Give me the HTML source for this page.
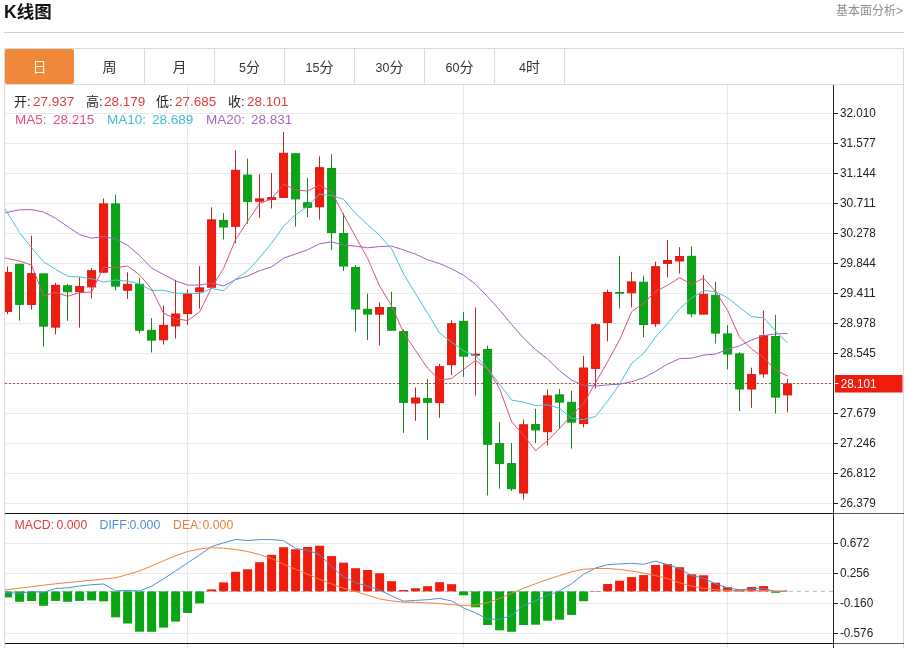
<!DOCTYPE html>
<html><head><meta charset="utf-8"><title>K线图</title>
<style>
html,body{margin:0;padding:0;background:#fff;}
body{width:908px;height:648px;position:relative;overflow:hidden;font-family:"Liberation Sans","Noto Sans CJK SC",sans-serif;color:#333;}
.title{position:absolute;left:4px;top:-1px;font-size:17.5px;font-weight:bold;line-height:26px;color:#111;}
.more{position:absolute;right:5px;top:3px;font-size:12px;line-height:16px;color:#8c8c8c;}
.hr{position:absolute;left:4px;right:4px;top:32px;height:1px;background:#d0d0d0;}
.tabs{position:absolute;left:4px;top:48px;width:899px;height:35px;border:1px solid #dcdcdc;box-sizing:content-box;border-right:none;}
.tab{position:absolute;top:0;width:69px;height:35px;border-right:1px solid #dcdcdc;text-align:center;line-height:36px;font-size:14px;color:#333;}
.tab.on{background:#f0883c;color:#fff6dc;border-right:none;border-radius:2px;}
.tab i{font-style:normal;font-size:12.5px;}
.lg{position:absolute;font-size:13.5px;line-height:16px;white-space:nowrap;}
.lg.m{font-size:12.3px;}
.lg b{font-weight:normal;font-size:13px;}
svg{position:absolute;left:0;top:0;}
.ax{font-family:"Liberation Sans",sans-serif;font-size:13px;fill:#222;}
</style></head><body>
<div class="title">K线图</div>
<div class="more">基本面分析&gt;</div>
<div class="hr"></div>
<svg width="908" height="648" viewBox="0 0 908 648">
<defs><clipPath id="cl"><rect x="5" y="85" width="828" height="563"/></clipPath></defs>
<line x1="5" x2="833" y1="113.5" y2="113.5" stroke="#e9eaec" stroke-width="1"/>
<line x1="5" x2="833" y1="143.5" y2="143.5" stroke="#e9eaec" stroke-width="1"/>
<line x1="5" x2="833" y1="173.5" y2="173.5" stroke="#e9eaec" stroke-width="1"/>
<line x1="5" x2="833" y1="203.5" y2="203.5" stroke="#e9eaec" stroke-width="1"/>
<line x1="5" x2="833" y1="233.5" y2="233.5" stroke="#e9eaec" stroke-width="1"/>
<line x1="5" x2="833" y1="263.5" y2="263.5" stroke="#e9eaec" stroke-width="1"/>
<line x1="5" x2="833" y1="293.5" y2="293.5" stroke="#e9eaec" stroke-width="1"/>
<line x1="5" x2="833" y1="323.5" y2="323.5" stroke="#e9eaec" stroke-width="1"/>
<line x1="5" x2="833" y1="353.5" y2="353.5" stroke="#e9eaec" stroke-width="1"/>
<line x1="5" x2="833" y1="383.5" y2="383.5" stroke="#e9eaec" stroke-width="1"/>
<line x1="5" x2="833" y1="413.5" y2="413.5" stroke="#e9eaec" stroke-width="1"/>
<line x1="5" x2="833" y1="443.5" y2="443.5" stroke="#e9eaec" stroke-width="1"/>
<line x1="5" x2="833" y1="473.5" y2="473.5" stroke="#e9eaec" stroke-width="1"/>
<line x1="5" x2="833" y1="503.5" y2="503.5" stroke="#e9eaec" stroke-width="1"/>
<line x1="5" x2="833" y1="543.5" y2="543.5" stroke="#e9eaec" stroke-width="1"/>
<line x1="5" x2="833" y1="573.5" y2="573.5" stroke="#e9eaec" stroke-width="1"/>
<line x1="5" x2="833" y1="603.5" y2="603.5" stroke="#e9eaec" stroke-width="1"/>
<line x1="5" x2="833" y1="633.5" y2="633.5" stroke="#e9eaec" stroke-width="1"/>
<line x1="187.5" x2="187.5" y1="85" y2="648" stroke="#e5e9ef" stroke-width="1"/>
<line x1="463.5" x2="463.5" y1="85" y2="648" stroke="#e5e9ef" stroke-width="1"/>
<line x1="727.5" x2="727.5" y1="85" y2="648" stroke="#e5e9ef" stroke-width="1"/>
<line x1="4.5" x2="4.5" y1="48" y2="648" stroke="#dcdcdc" stroke-width="1"/>
<line x1="903.5" x2="903.5" y1="48" y2="648" stroke="#dcdcdc" stroke-width="1"/>
<line x1="5" x2="833" y1="383.5" y2="383.5" stroke="#b03a30" stroke-width="1" stroke-dasharray="2,2" opacity="0.9"/>
<g clip-path="url(#cl)">
<line x1="7.5" x2="7.5" y1="266.4" y2="314.2" stroke="#c02424" stroke-width="1"/>
<rect x="3.6" y="272.4" width="8" height="39.0" fill="#f01c0c" stroke="#d8181a" stroke-width="1"/>
<line x1="19.5" x2="19.5" y1="263.8" y2="320.6" stroke="#1a8426" stroke-width="1"/>
<rect x="15.6" y="264.3" width="8" height="40.1" fill="#0aa514" stroke="#0e951c" stroke-width="1"/>
<line x1="31.5" x2="31.5" y1="235.7" y2="309.4" stroke="#c02424" stroke-width="1"/>
<rect x="27.6" y="273.7" width="8" height="30.7" fill="#f01c0c" stroke="#d8181a" stroke-width="1"/>
<line x1="43.5" x2="43.5" y1="273.4" y2="346.6" stroke="#1a8426" stroke-width="1"/>
<rect x="39.6" y="273.9" width="8" height="52.2" fill="#0aa514" stroke="#0e951c" stroke-width="1"/>
<line x1="55.5" x2="55.5" y1="282.8" y2="334.5" stroke="#c02424" stroke-width="1"/>
<rect x="51.6" y="285.3" width="8" height="41.8" fill="#f01c0c" stroke="#d8181a" stroke-width="1"/>
<line x1="67.5" x2="67.5" y1="284.0" y2="320.8" stroke="#1a8426" stroke-width="1"/>
<rect x="63.6" y="285.8" width="8" height="5.9" fill="#0aa514" stroke="#0e951c" stroke-width="1"/>
<line x1="79.5" x2="79.5" y1="277.0" y2="327.6" stroke="#c02424" stroke-width="1"/>
<rect x="75.6" y="286.6" width="8" height="5.1" fill="#f01c0c" stroke="#d8181a" stroke-width="1"/>
<line x1="91.5" x2="91.5" y1="268.0" y2="298.5" stroke="#c02424" stroke-width="1"/>
<rect x="87.6" y="270.7" width="8" height="16.2" fill="#f01c0c" stroke="#d8181a" stroke-width="1"/>
<line x1="103.5" x2="103.5" y1="198.5" y2="272.7" stroke="#c02424" stroke-width="1"/>
<rect x="99.6" y="203.9" width="8" height="68.3" fill="#f01c0c" stroke="#d8181a" stroke-width="1"/>
<line x1="115.5" x2="115.5" y1="194.7" y2="290.4" stroke="#1a8426" stroke-width="1"/>
<rect x="111.6" y="203.9" width="8" height="82.2" fill="#0aa514" stroke="#0e951c" stroke-width="1"/>
<line x1="127.5" x2="127.5" y1="272.4" y2="298.8" stroke="#c02424" stroke-width="1"/>
<rect x="123.6" y="284.3" width="8" height="5.9" fill="#f01c0c" stroke="#d8181a" stroke-width="1"/>
<line x1="139.5" x2="139.5" y1="277.7" y2="333.5" stroke="#1a8426" stroke-width="1"/>
<rect x="135.6" y="284.3" width="8" height="45.9" fill="#0aa514" stroke="#0e951c" stroke-width="1"/>
<line x1="151.5" x2="151.5" y1="318.0" y2="352.5" stroke="#1a8426" stroke-width="1"/>
<rect x="147.6" y="330.4" width="8" height="9.7" fill="#0aa514" stroke="#0e951c" stroke-width="1"/>
<line x1="163.5" x2="163.5" y1="305.6" y2="344.6" stroke="#c02424" stroke-width="1"/>
<rect x="159.6" y="325.4" width="8" height="14.4" fill="#f01c0c" stroke="#d8181a" stroke-width="1"/>
<line x1="175.5" x2="175.5" y1="279.8" y2="338.5" stroke="#c02424" stroke-width="1"/>
<rect x="171.6" y="314.0" width="8" height="11.9" fill="#f01c0c" stroke="#d8181a" stroke-width="1"/>
<line x1="187.5" x2="187.5" y1="289.7" y2="325.1" stroke="#c02424" stroke-width="1"/>
<rect x="183.6" y="294.0" width="8" height="19.5" fill="#f01c0c" stroke="#d8181a" stroke-width="1"/>
<line x1="199.5" x2="199.5" y1="266.1" y2="308.7" stroke="#c02424" stroke-width="1"/>
<rect x="195.6" y="287.9" width="8" height="3.8" fill="#f01c0c" stroke="#d8181a" stroke-width="1"/>
<line x1="211.5" x2="211.5" y1="207.3" y2="287.7" stroke="#c02424" stroke-width="1"/>
<rect x="207.6" y="219.9" width="8" height="67.3" fill="#f01c0c" stroke="#d8181a" stroke-width="1"/>
<line x1="223.5" x2="223.5" y1="213.1" y2="239.4" stroke="#1a8426" stroke-width="1"/>
<rect x="219.6" y="220.4" width="8" height="6.6" fill="#0aa514" stroke="#0e951c" stroke-width="1"/>
<line x1="235.5" x2="235.5" y1="150.3" y2="243.2" stroke="#c02424" stroke-width="1"/>
<rect x="231.6" y="170.3" width="8" height="56.0" fill="#f01c0c" stroke="#d8181a" stroke-width="1"/>
<line x1="247.5" x2="247.5" y1="158.6" y2="223.7" stroke="#1a8426" stroke-width="1"/>
<rect x="243.6" y="175.1" width="8" height="26.3" fill="#0aa514" stroke="#0e951c" stroke-width="1"/>
<line x1="259.5" x2="259.5" y1="174.1" y2="217.9" stroke="#c02424" stroke-width="1"/>
<rect x="255.6" y="198.9" width="8" height="2.3" fill="#f01c0c" stroke="#d8181a" stroke-width="1"/>
<line x1="271.5" x2="271.5" y1="173.1" y2="208.5" stroke="#c02424" stroke-width="1"/>
<rect x="267.6" y="197.6" width="8" height="1.8" fill="#f01c0c" stroke="#d8181a" stroke-width="1"/>
<line x1="283.5" x2="283.5" y1="132.0" y2="197.9" stroke="#c02424" stroke-width="1"/>
<rect x="279.6" y="153.3" width="8" height="44.1" fill="#f01c0c" stroke="#d8181a" stroke-width="1"/>
<line x1="295.5" x2="295.5" y1="153.3" y2="226.5" stroke="#1a8426" stroke-width="1"/>
<rect x="291.6" y="153.8" width="8" height="45.1" fill="#0aa514" stroke="#0e951c" stroke-width="1"/>
<line x1="307.5" x2="307.5" y1="177.9" y2="217.1" stroke="#1a8426" stroke-width="1"/>
<rect x="303.6" y="202.7" width="8" height="4.6" fill="#0aa514" stroke="#0e951c" stroke-width="1"/>
<line x1="319.5" x2="319.5" y1="156.3" y2="219.7" stroke="#c02424" stroke-width="1"/>
<rect x="315.6" y="167.7" width="8" height="39.1" fill="#f01c0c" stroke="#d8181a" stroke-width="1"/>
<line x1="331.5" x2="331.5" y1="154.3" y2="250.1" stroke="#1a8426" stroke-width="1"/>
<rect x="327.6" y="168.5" width="8" height="64.1" fill="#0aa514" stroke="#0e951c" stroke-width="1"/>
<line x1="343.5" x2="343.5" y1="213.1" y2="271.0" stroke="#1a8426" stroke-width="1"/>
<rect x="339.6" y="233.6" width="8" height="32.4" fill="#0aa514" stroke="#0e951c" stroke-width="1"/>
<line x1="355.5" x2="355.5" y1="265.0" y2="331.6" stroke="#1a8426" stroke-width="1"/>
<rect x="351.6" y="267.5" width="8" height="41.5" fill="#0aa514" stroke="#0e951c" stroke-width="1"/>
<line x1="367.5" x2="367.5" y1="293.6" y2="339.9" stroke="#1a8426" stroke-width="1"/>
<rect x="363.6" y="309.3" width="8" height="4.8" fill="#0aa514" stroke="#0e951c" stroke-width="1"/>
<line x1="379.5" x2="379.5" y1="302.4" y2="345.5" stroke="#c02424" stroke-width="1"/>
<rect x="375.6" y="307.5" width="8" height="6.6" fill="#f01c0c" stroke="#d8181a" stroke-width="1"/>
<line x1="391.5" x2="391.5" y1="291.8" y2="330.7" stroke="#1a8426" stroke-width="1"/>
<rect x="387.6" y="307.5" width="8" height="22.7" fill="#0aa514" stroke="#0e951c" stroke-width="1"/>
<line x1="403.5" x2="403.5" y1="329.3" y2="432.9" stroke="#1a8426" stroke-width="1"/>
<rect x="399.6" y="331.6" width="8" height="70.8" fill="#0aa514" stroke="#0e951c" stroke-width="1"/>
<line x1="415.5" x2="415.5" y1="387.5" y2="420.8" stroke="#c02424" stroke-width="1"/>
<rect x="411.6" y="398.0" width="8" height="5.0" fill="#f01c0c" stroke="#d8181a" stroke-width="1"/>
<line x1="427.5" x2="427.5" y1="379.1" y2="439.8" stroke="#1a8426" stroke-width="1"/>
<rect x="423.6" y="398.6" width="8" height="3.7" fill="#0aa514" stroke="#0e951c" stroke-width="1"/>
<line x1="439.5" x2="439.5" y1="363.9" y2="417.7" stroke="#c02424" stroke-width="1"/>
<rect x="435.6" y="366.7" width="8" height="35.9" fill="#f01c0c" stroke="#d8181a" stroke-width="1"/>
<line x1="451.5" x2="451.5" y1="320.4" y2="375.0" stroke="#c02424" stroke-width="1"/>
<rect x="447.6" y="323.7" width="8" height="41.0" fill="#f01c0c" stroke="#d8181a" stroke-width="1"/>
<line x1="463.5" x2="463.5" y1="312.1" y2="376.9" stroke="#1a8426" stroke-width="1"/>
<rect x="459.6" y="321.4" width="8" height="34.7" fill="#0aa514" stroke="#0e951c" stroke-width="1"/>
<line x1="475.5" x2="475.5" y1="307.5" y2="395.5" stroke="#c02424" stroke-width="1"/>
<rect x="471.6" y="354.3" width="8" height="0.8" fill="#c01828" stroke="#b01828" stroke-width="1"/>
<line x1="487.5" x2="487.5" y1="345.7" y2="495.5" stroke="#1a8426" stroke-width="1"/>
<rect x="483.6" y="349.5" width="8" height="94.8" fill="#0aa514" stroke="#0e951c" stroke-width="1"/>
<line x1="499.5" x2="499.5" y1="422.0" y2="488.7" stroke="#1a8426" stroke-width="1"/>
<rect x="495.6" y="443.6" width="8" height="20.0" fill="#0aa514" stroke="#0e951c" stroke-width="1"/>
<line x1="511.5" x2="511.5" y1="443.1" y2="491.0" stroke="#1a8426" stroke-width="1"/>
<rect x="507.6" y="463.6" width="8" height="25.1" fill="#0aa514" stroke="#0e951c" stroke-width="1"/>
<line x1="523.5" x2="523.5" y1="419.5" y2="499.6" stroke="#c02424" stroke-width="1"/>
<rect x="519.6" y="424.8" width="8" height="68.2" fill="#f01c0c" stroke="#d8181a" stroke-width="1"/>
<line x1="535.5" x2="535.5" y1="408.9" y2="443.1" stroke="#1a8426" stroke-width="1"/>
<rect x="531.6" y="424.6" width="8" height="5.3" fill="#0aa514" stroke="#0e951c" stroke-width="1"/>
<line x1="547.5" x2="547.5" y1="389.4" y2="445.6" stroke="#c02424" stroke-width="1"/>
<rect x="543.6" y="395.9" width="8" height="35.8" fill="#f01c0c" stroke="#d8181a" stroke-width="1"/>
<line x1="559.5" x2="559.5" y1="389.1" y2="429.1" stroke="#1a8426" stroke-width="1"/>
<rect x="555.6" y="394.9" width="8" height="7.2" fill="#0aa514" stroke="#0e951c" stroke-width="1"/>
<line x1="571.5" x2="571.5" y1="390.9" y2="448.7" stroke="#1a8426" stroke-width="1"/>
<rect x="567.6" y="402.3" width="8" height="19.8" fill="#0aa514" stroke="#0e951c" stroke-width="1"/>
<line x1="583.5" x2="583.5" y1="355.9" y2="427.4" stroke="#c02424" stroke-width="1"/>
<rect x="579.6" y="368.0" width="8" height="55.6" fill="#f01c0c" stroke="#d8181a" stroke-width="1"/>
<line x1="595.5" x2="595.5" y1="323.0" y2="388.4" stroke="#c02424" stroke-width="1"/>
<rect x="591.6" y="324.7" width="8" height="43.7" fill="#f01c0c" stroke="#d8181a" stroke-width="1"/>
<line x1="607.5" x2="607.5" y1="289.5" y2="341.4" stroke="#c02424" stroke-width="1"/>
<rect x="603.6" y="292.6" width="8" height="29.9" fill="#f01c0c" stroke="#d8181a" stroke-width="1"/>
<line x1="619.5" x2="619.5" y1="255.8" y2="308.5" stroke="#1a8426" stroke-width="1"/>
<rect x="615.6" y="292.6" width="8" height="0.6" fill="#0aa514" stroke="#0e951c" stroke-width="1"/>
<line x1="631.5" x2="631.5" y1="271.8" y2="307.3" stroke="#c02424" stroke-width="1"/>
<rect x="627.6" y="281.9" width="8" height="10.9" fill="#f01c0c" stroke="#d8181a" stroke-width="1"/>
<line x1="643.5" x2="643.5" y1="275.6" y2="337.1" stroke="#1a8426" stroke-width="1"/>
<rect x="639.6" y="282.2" width="8" height="42.3" fill="#0aa514" stroke="#0e951c" stroke-width="1"/>
<line x1="655.5" x2="655.5" y1="261.7" y2="326.8" stroke="#c02424" stroke-width="1"/>
<rect x="651.6" y="266.7" width="8" height="57.0" fill="#f01c0c" stroke="#d8181a" stroke-width="1"/>
<line x1="667.5" x2="667.5" y1="240.1" y2="277.4" stroke="#c02424" stroke-width="1"/>
<rect x="663.6" y="260.5" width="8" height="2.9" fill="#f01c0c" stroke="#d8181a" stroke-width="1"/>
<line x1="679.5" x2="679.5" y1="247.2" y2="273.6" stroke="#c02424" stroke-width="1"/>
<rect x="675.6" y="256.5" width="8" height="4.5" fill="#f01c0c" stroke="#d8181a" stroke-width="1"/>
<line x1="691.5" x2="691.5" y1="246.5" y2="316.9" stroke="#1a8426" stroke-width="1"/>
<rect x="687.6" y="256.3" width="8" height="57.5" fill="#0aa514" stroke="#0e951c" stroke-width="1"/>
<line x1="703.5" x2="703.5" y1="275.1" y2="314.6" stroke="#c02424" stroke-width="1"/>
<rect x="699.6" y="294.3" width="8" height="19.8" fill="#f01c0c" stroke="#d8181a" stroke-width="1"/>
<line x1="715.5" x2="715.5" y1="281.9" y2="343.5" stroke="#1a8426" stroke-width="1"/>
<rect x="711.6" y="295.3" width="8" height="37.8" fill="#0aa514" stroke="#0e951c" stroke-width="1"/>
<line x1="727.5" x2="727.5" y1="325.2" y2="369.3" stroke="#1a8426" stroke-width="1"/>
<rect x="723.6" y="333.9" width="8" height="20.1" fill="#0aa514" stroke="#0e951c" stroke-width="1"/>
<line x1="739.5" x2="739.5" y1="352.3" y2="411.1" stroke="#1a8426" stroke-width="1"/>
<rect x="735.6" y="353.9" width="8" height="35.1" fill="#0aa514" stroke="#0e951c" stroke-width="1"/>
<line x1="751.5" x2="751.5" y1="367.7" y2="407.8" stroke="#c02424" stroke-width="1"/>
<rect x="747.6" y="374.6" width="8" height="14.4" fill="#f01c0c" stroke="#d8181a" stroke-width="1"/>
<line x1="763.5" x2="763.5" y1="310.6" y2="377.5" stroke="#c02424" stroke-width="1"/>
<rect x="759.6" y="335.8" width="8" height="38.1" fill="#f01c0c" stroke="#d8181a" stroke-width="1"/>
<line x1="775.5" x2="775.5" y1="314.8" y2="413.4" stroke="#1a8426" stroke-width="1"/>
<rect x="771.6" y="336.5" width="8" height="60.6" fill="#0aa514" stroke="#0e951c" stroke-width="1"/>
<line x1="787.5" x2="787.5" y1="378.8" y2="412.3" stroke="#c02424" stroke-width="1"/>
<rect x="783.6" y="384.0" width="8" height="10.9" fill="#f01c0c" stroke="#d8181a" stroke-width="1"/>
<polyline points="-4.4,214.8 7.6,212.3 19.6,209.8 31.6,209.6 43.6,212.0 55.6,218.3 67.6,226.5 79.6,234.6 91.6,238.2 103.6,236.5 115.6,239.0 127.6,245.3 139.6,255.5 151.6,268.1 163.6,274.5 175.6,280.8 187.6,285.1 199.6,285.1 211.6,283.0 223.6,286.0 235.6,279.6 247.6,276.1 259.6,270.7 271.6,266.9 283.6,258.2 295.6,254.0 307.6,249.7 319.6,243.8 331.6,241.9 343.6,245.1 355.6,246.2 367.6,247.8 379.6,246.6 391.6,246.1 403.6,250.0 415.6,254.2 427.6,259.7 439.6,263.6 451.6,268.8 463.6,275.2 475.6,284.4 487.6,296.6 499.6,309.9 511.6,324.5 523.6,338.1 535.6,349.6 547.6,359.0 559.6,370.8 571.6,380.2 583.6,385.3 595.6,386.0 607.6,384.9 619.6,384.2 631.6,381.7 643.6,377.9 655.6,371.3 667.6,364.1 679.6,358.6 691.6,358.2 703.6,355.1 715.6,354.0 727.6,349.5 739.6,345.8 751.6,340.0 763.6,335.6 775.6,333.9 787.6,333.4" fill="none" stroke="#a062c0" stroke-width="1.0" stroke-linejoin="round"/>
<polyline points="-4.4,193.3 7.6,213.0 19.6,232.7 31.6,247.9 43.6,261.8 55.6,269.4 67.6,276.2 79.6,277.0 91.6,278.8 103.6,282.0 115.6,280.0 127.6,281.2 139.6,283.8 151.6,290.5 163.6,290.3 175.6,293.2 187.6,293.3 199.6,293.5 211.6,288.4 223.6,290.8 235.6,279.1 247.6,270.9 259.6,257.7 271.6,243.3 283.6,226.1 295.6,214.7 307.6,206.2 319.6,194.1 331.6,195.5 343.6,199.4 355.6,213.4 367.6,224.6 379.6,235.5 391.6,248.9 403.6,273.9 415.6,293.7 427.6,313.2 439.6,333.1 451.6,342.1 463.6,351.1 475.6,355.5 487.6,368.6 499.6,384.3 511.6,400.1 523.6,402.2 535.6,405.5 547.6,404.8 559.6,408.4 571.6,418.4 583.6,419.5 595.6,416.5 607.6,401.2 619.6,384.2 631.6,363.4 643.6,353.4 655.6,337.0 667.6,323.5 679.6,308.8 691.6,298.0 703.6,290.6 715.6,291.6 727.6,297.8 739.6,307.4 751.6,316.7 763.6,317.7 775.6,330.9 787.6,343.2" fill="none" stroke="#45c2d6" stroke-width="1.0" stroke-linejoin="round"/>
<polyline points="-4.4,256.0 7.6,258.5 19.6,261.0 31.6,265.1 43.6,296.0 55.6,292.3 67.6,296.3 79.6,292.6 91.6,292.0 103.6,267.3 115.6,267.7 127.6,266.0 139.6,274.9 151.6,289.0 163.6,313.3 175.6,318.7 187.6,320.6 199.6,312.0 211.6,287.7 223.6,268.3 235.6,239.5 247.6,221.2 259.6,203.4 271.6,198.9 283.6,184.0 295.6,189.9 307.6,191.1 319.6,184.9 331.6,192.1 343.6,214.8 355.6,236.8 367.6,258.2 379.6,286.1 391.6,305.7 403.6,332.9 415.6,350.5 427.6,368.2 439.6,380.0 451.6,378.5 463.6,369.3 475.6,360.5 487.6,368.9 499.6,388.5 511.6,421.7 523.6,435.2 535.6,450.6 547.6,440.7 559.6,428.4 571.6,415.1 583.6,403.7 595.6,382.5 607.6,361.8 619.6,339.9 631.6,311.7 643.6,303.2 655.6,291.6 667.6,285.2 679.6,277.7 691.6,284.3 703.6,278.1 715.6,291.5 727.6,310.4 739.6,337.1 751.6,349.1 763.6,357.4 775.6,370.2 787.6,376.0" fill="none" stroke="#e0507c" stroke-width="1.0" stroke-linejoin="round"/>
<line x1="5" x2="833" y1="591.4" y2="591.4" stroke="#9cc4e8" stroke-width="1" stroke-dasharray="4,4"/>
<rect x="3.1" y="591.4" width="9" height="6.0" fill="#0aa514"/>
<rect x="15.1" y="591.4" width="9" height="10.4" fill="#0aa514"/>
<rect x="27.1" y="591.4" width="9" height="9.6" fill="#0aa514"/>
<rect x="39.1" y="591.4" width="9" height="14.4" fill="#0aa514"/>
<rect x="51.1" y="591.4" width="9" height="9.5" fill="#0aa514"/>
<rect x="63.1" y="591.4" width="9" height="10.4" fill="#0aa514"/>
<rect x="75.1" y="591.4" width="9" height="9.5" fill="#0aa514"/>
<rect x="87.1" y="591.4" width="9" height="9.0" fill="#0aa514"/>
<rect x="99.1" y="591.4" width="9" height="10.0" fill="#0aa514"/>
<rect x="111.1" y="591.4" width="9" height="25.9" fill="#0aa514"/>
<rect x="123.1" y="591.4" width="9" height="32.1" fill="#0aa514"/>
<rect x="135.1" y="591.4" width="9" height="40.3" fill="#0aa514"/>
<rect x="147.1" y="591.4" width="9" height="40.4" fill="#0aa514"/>
<rect x="159.1" y="591.4" width="9" height="36.2" fill="#0aa514"/>
<rect x="171.1" y="591.4" width="9" height="30.2" fill="#0aa514"/>
<rect x="183.1" y="591.4" width="9" height="21.6" fill="#0aa514"/>
<rect x="195.1" y="591.4" width="9" height="12.0" fill="#0aa514"/>
<rect x="207.1" y="589.4" width="9" height="2.0" fill="#f01c0c"/>
<rect x="219.1" y="582.4" width="9" height="9.0" fill="#f01c0c"/>
<rect x="231.1" y="571.8" width="9" height="19.6" fill="#f01c0c"/>
<rect x="243.1" y="569.3" width="9" height="22.1" fill="#f01c0c"/>
<rect x="255.1" y="562.2" width="9" height="29.2" fill="#f01c0c"/>
<rect x="267.1" y="554.8" width="9" height="36.6" fill="#f01c0c"/>
<rect x="279.1" y="547.2" width="9" height="44.2" fill="#f01c0c"/>
<rect x="291.1" y="549.3" width="9" height="42.1" fill="#f01c0c"/>
<rect x="303.1" y="547.0" width="9" height="44.4" fill="#f01c0c"/>
<rect x="315.1" y="545.7" width="9" height="45.7" fill="#f01c0c"/>
<rect x="327.1" y="556.1" width="9" height="35.3" fill="#f01c0c"/>
<rect x="339.1" y="562.7" width="9" height="28.7" fill="#f01c0c"/>
<rect x="351.1" y="568.2" width="9" height="23.2" fill="#f01c0c"/>
<rect x="363.1" y="570.0" width="9" height="21.4" fill="#f01c0c"/>
<rect x="375.1" y="573.3" width="9" height="18.1" fill="#f01c0c"/>
<rect x="387.1" y="581.2" width="9" height="10.2" fill="#f01c0c"/>
<rect x="399.1" y="590.0" width="9" height="1.4" fill="#f01c0c"/>
<rect x="411.1" y="588.3" width="9" height="3.1" fill="#f01c0c"/>
<rect x="423.1" y="586.2" width="9" height="5.2" fill="#f01c0c"/>
<rect x="435.1" y="582.2" width="9" height="9.2" fill="#f01c0c"/>
<rect x="447.1" y="584.2" width="9" height="7.2" fill="#f01c0c"/>
<rect x="459.1" y="591.4" width="9" height="3.9" fill="#0aa514"/>
<rect x="471.1" y="591.4" width="9" height="15.9" fill="#0aa514"/>
<rect x="483.1" y="591.4" width="9" height="33.6" fill="#0aa514"/>
<rect x="495.1" y="591.4" width="9" height="38.9" fill="#0aa514"/>
<rect x="507.1" y="591.4" width="9" height="40.4" fill="#0aa514"/>
<rect x="519.1" y="591.4" width="9" height="33.6" fill="#0aa514"/>
<rect x="531.1" y="591.4" width="9" height="33.3" fill="#0aa514"/>
<rect x="543.1" y="591.4" width="9" height="29.3" fill="#0aa514"/>
<rect x="555.1" y="591.4" width="9" height="28.3" fill="#0aa514"/>
<rect x="567.1" y="591.4" width="9" height="23.5" fill="#0aa514"/>
<rect x="579.1" y="591.4" width="9" height="9.8" fill="#0aa514"/>
<rect x="591.1" y="591.0" width="9" height="0.4" fill="#f01c0c"/>
<rect x="603.1" y="584.0" width="9" height="7.4" fill="#f01c0c"/>
<rect x="615.1" y="580.7" width="9" height="10.7" fill="#f01c0c"/>
<rect x="627.1" y="577.1" width="9" height="14.3" fill="#f01c0c"/>
<rect x="639.1" y="575.1" width="9" height="16.3" fill="#f01c0c"/>
<rect x="651.1" y="565.0" width="9" height="26.4" fill="#f01c0c"/>
<rect x="663.1" y="564.2" width="9" height="27.2" fill="#f01c0c"/>
<rect x="675.1" y="567.2" width="9" height="24.2" fill="#f01c0c"/>
<rect x="687.1" y="574.3" width="9" height="17.1" fill="#f01c0c"/>
<rect x="699.1" y="575.3" width="9" height="16.1" fill="#f01c0c"/>
<rect x="711.1" y="582.7" width="9" height="8.7" fill="#f01c0c"/>
<rect x="723.1" y="587.2" width="9" height="4.2" fill="#f01c0c"/>
<rect x="735.1" y="589.5" width="9" height="1.9" fill="#f01c0c"/>
<rect x="747.1" y="587.0" width="9" height="4.4" fill="#f01c0c"/>
<rect x="759.1" y="586.0" width="9" height="5.4" fill="#f01c0c"/>
<rect x="771.1" y="591.4" width="9" height="1.4" fill="#0aa514"/>
<polyline points="-4.4,591.8 7.6,592.6 19.6,593.4 31.6,591.5 43.6,592.4 55.6,588.5 67.6,587.8 79.6,586.1 91.6,584.7 103.6,584.0 115.6,590.8 127.6,590.5 139.6,591.0 151.6,586.2 163.6,578.8 175.6,570.9 187.6,562.9 199.6,555.0 211.6,546.5 223.6,542.8 235.6,539.4 247.6,540.6 259.6,539.6 271.6,539.6 283.6,540.6 295.6,548.5 307.6,550.3 319.6,554.6 331.6,566.7 343.6,576.9 355.6,582.7 367.6,586.2 379.6,590.0 391.6,595.9 403.6,601.2 415.6,600.4 427.6,599.7 439.6,598.4 451.6,600.9 463.6,608.0 475.6,612.8 487.6,619.2 499.6,619.2 511.6,615.6 523.6,605.5 535.6,600.9 547.6,595.3 559.6,590.8 571.6,583.7 583.6,574.3 595.6,568.0 607.6,564.7 619.6,563.9 631.6,563.4 643.6,564.2 655.6,561.2 667.6,564.7 679.6,568.5 691.6,575.6 703.6,578.1 715.6,584.0 727.6,587.8 739.6,590.0 751.6,588.8 763.6,588.3 775.6,591.5 787.6,591.0" fill="none" stroke="#4a90d9" stroke-width="1.0" stroke-linejoin="round"/>
<polyline points="-4.4,591.0 7.6,589.6 19.6,588.2 31.6,586.7 43.6,585.2 55.6,583.8 67.6,582.6 79.6,581.4 91.6,580.2 103.6,579.0 115.6,577.8 127.6,574.5 139.6,570.9 151.6,566.0 163.6,560.7 175.6,555.8 187.6,551.5 199.6,549.0 211.6,547.7 223.6,548.2 235.6,549.5 247.6,551.5 259.6,554.6 271.6,558.4 283.6,564.2 295.6,569.3 307.6,574.3 319.6,579.4 331.6,584.0 343.6,588.3 355.6,591.5 367.6,595.3 379.6,598.9 391.6,600.9 403.6,602.2 415.6,602.4 427.6,602.9 439.6,603.5 451.6,604.7 463.6,605.5 475.6,605.0 487.6,602.7 499.6,598.4 511.6,593.3 523.6,588.3 535.6,583.7 547.6,579.4 559.6,575.6 571.6,571.8 583.6,569.3 595.6,568.5 607.6,568.5 619.6,569.5 631.6,571.0 643.6,573.1 655.6,575.6 667.6,578.6 679.6,582.7 691.6,586.2 703.6,588.3 715.6,589.8 727.6,590.5 739.6,590.8 751.6,590.8 763.6,590.5 775.6,591.0 787.6,591.0" fill="none" stroke="#f0823c" stroke-width="1.0" stroke-linejoin="round"/>
</g>
<line x1="833.5" x2="833.5" y1="85" y2="648" stroke="#222" stroke-width="1"/>
<rect x="5" y="513" width="829" height="1" fill="#111"/>
<rect x="834" y="513" width="70" height="1" fill="#555"/>
<rect x="5" y="643" width="829" height="1" fill="#111"/>
<rect x="834" y="643" width="70" height="1" fill="#555"/>
<line x1="834" x2="838" y1="113.5" y2="113.5" stroke="#222" stroke-width="1"/>
<text x="839.9" y="117.4" class="ax" textLength="35.9" lengthAdjust="spacingAndGlyphs">32.010</text>
<line x1="834" x2="838" y1="143.5" y2="143.5" stroke="#222" stroke-width="1"/>
<text x="839.9" y="147.4" class="ax" textLength="35.9" lengthAdjust="spacingAndGlyphs">31.577</text>
<line x1="834" x2="838" y1="173.5" y2="173.5" stroke="#222" stroke-width="1"/>
<text x="839.9" y="177.4" class="ax" textLength="35.9" lengthAdjust="spacingAndGlyphs">31.144</text>
<line x1="834" x2="838" y1="203.5" y2="203.5" stroke="#222" stroke-width="1"/>
<text x="839.9" y="207.4" class="ax" textLength="35.9" lengthAdjust="spacingAndGlyphs">30.711</text>
<line x1="834" x2="838" y1="233.5" y2="233.5" stroke="#222" stroke-width="1"/>
<text x="839.9" y="237.4" class="ax" textLength="35.9" lengthAdjust="spacingAndGlyphs">30.278</text>
<line x1="834" x2="838" y1="263.5" y2="263.5" stroke="#222" stroke-width="1"/>
<text x="839.9" y="267.4" class="ax" textLength="35.9" lengthAdjust="spacingAndGlyphs">29.844</text>
<line x1="834" x2="838" y1="293.5" y2="293.5" stroke="#222" stroke-width="1"/>
<text x="839.9" y="297.4" class="ax" textLength="35.9" lengthAdjust="spacingAndGlyphs">29.411</text>
<line x1="834" x2="838" y1="323.5" y2="323.5" stroke="#222" stroke-width="1"/>
<text x="839.9" y="327.4" class="ax" textLength="35.9" lengthAdjust="spacingAndGlyphs">28.978</text>
<line x1="834" x2="838" y1="353.5" y2="353.5" stroke="#222" stroke-width="1"/>
<text x="839.9" y="357.4" class="ax" textLength="35.9" lengthAdjust="spacingAndGlyphs">28.545</text>
<line x1="834" x2="838" y1="413.5" y2="413.5" stroke="#222" stroke-width="1"/>
<text x="839.9" y="417.4" class="ax" textLength="35.9" lengthAdjust="spacingAndGlyphs">27.679</text>
<line x1="834" x2="838" y1="443.5" y2="443.5" stroke="#222" stroke-width="1"/>
<text x="839.9" y="447.4" class="ax" textLength="35.9" lengthAdjust="spacingAndGlyphs">27.246</text>
<line x1="834" x2="838" y1="473.5" y2="473.5" stroke="#222" stroke-width="1"/>
<text x="839.9" y="477.4" class="ax" textLength="35.9" lengthAdjust="spacingAndGlyphs">26.812</text>
<line x1="834" x2="838" y1="503.5" y2="503.5" stroke="#222" stroke-width="1"/>
<text x="839.9" y="507.4" class="ax" textLength="35.9" lengthAdjust="spacingAndGlyphs">26.379</text>
<line x1="834" x2="838" y1="543.5" y2="543.5" stroke="#222" stroke-width="1"/>
<text x="839.9" y="547.4" class="ax" textLength="29.4" lengthAdjust="spacingAndGlyphs">0.672</text>
<line x1="834" x2="838" y1="573.5" y2="573.5" stroke="#222" stroke-width="1"/>
<text x="839.9" y="577.4" class="ax" textLength="29.4" lengthAdjust="spacingAndGlyphs">0.256</text>
<line x1="834" x2="838" y1="603.5" y2="603.5" stroke="#222" stroke-width="1"/>
<text x="839.9" y="607.4" class="ax" textLength="33.3" lengthAdjust="spacingAndGlyphs">-0.160</text>
<line x1="834" x2="838" y1="633.5" y2="633.5" stroke="#222" stroke-width="1"/>
<text x="839.9" y="637.4" class="ax" textLength="33.3" lengthAdjust="spacingAndGlyphs">-0.576</text>
<rect x="835" y="375" width="67.5" height="17.5" fill="#f01c0c"/>
<line x1="835" x2="838.5" y1="383.5" y2="383.5" stroke="#fff" stroke-width="1"/>
<text x="840.7" y="387.6" class="ax" style="fill:#fff" textLength="35.9" lengthAdjust="spacingAndGlyphs">28.101</text>
</svg>
<div class="tabs">
<div class="tab on" style="left:0">日</div>
<div class="tab" style="left:70px">周</div>
<div class="tab" style="left:140px">月</div>
<div class="tab" style="left:210px"><i>5</i>分</div>
<div class="tab" style="left:280px"><i>15</i>分</div>
<div class="tab" style="left:350px"><i>30</i>分</div>
<div class="tab" style="left:420px"><i>60</i>分</div>
<div class="tab" style="left:490px"><i>4</i>时</div>
</div>
<div class="lg" style="left:14px;top:94px;color:#222"><b>开:</b></div><div class="lg" style="left:33px;top:94px;color:#e03c3c">27.937</div>
<div class="lg" style="left:86px;top:94px;color:#222"><b>高:</b></div><div class="lg" style="left:104px;top:94px;color:#e03c3c">28.179</div>
<div class="lg" style="left:156px;top:94px;color:#222"><b>低:</b></div><div class="lg" style="left:175px;top:94px;color:#e03c3c">27.685</div>
<div class="lg" style="left:228px;top:94px;color:#222"><b>收:</b></div><div class="lg" style="left:247px;top:94px;color:#e03c3c">28.101</div>
<div class="lg" style="left:15px;top:112px;color:#e0507c">MA5:</div><div class="lg" style="left:53px;top:112px;color:#e0507c">28.215</div>
<div class="lg" style="left:107px;top:112px;color:#45bcd0">MA10:</div><div class="lg" style="left:152px;top:112px;color:#45bcd0">28.689</div>
<div class="lg" style="left:206px;top:112px;color:#a868c8">MA20:</div><div class="lg" style="left:251px;top:112px;color:#a868c8">28.831</div>
<div class="lg m" style="left:14.5px;top:517px;color:#e03c3c">MACD:</div><div class="lg m" style="left:56.5px;top:517px;color:#e03c3c">0.000</div>
<div class="lg m" style="left:99.5px;top:517px;color:#4a90d9">DIFF:</div><div class="lg m" style="left:129.5px;top:517px;color:#4a90d9">0.000</div>
<div class="lg m" style="left:173px;top:517px;color:#e8803a">DEA:</div><div class="lg m" style="left:202.5px;top:517px;color:#e8803a">0.000</div>
</body></html>
